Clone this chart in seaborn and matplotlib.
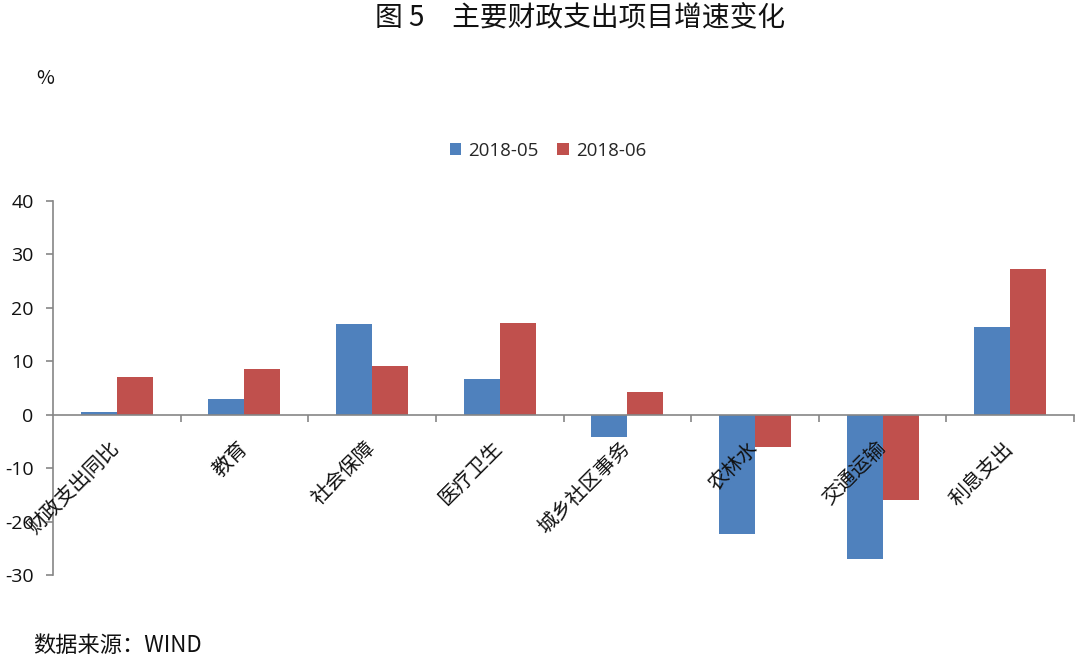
import matplotlib
matplotlib.use("Agg")
import matplotlib.pyplot as plt
from matplotlib.ticker import FixedLocator
from matplotlib.patches import Patch
import seaborn as sns
import pandas as pd
import numpy as np

categories = ["财政支出同比", "教育", "社会保障", "医疗卫生", "城乡社区事务", "农林水", "交通运输", "利息支出"]
series_names = ["2018-05", "2018-06"]
may_values = [0.5, 3.0, 17.0, 6.6, -4.2, -22.3, -27.0, 16.5]
jun_values = [7.0, 8.6, 9.1, 17.2, 4.3, -6.1, -15.9, 27.3]
y_ticks = [-30, -20, -10, 0, 10, 20, 30, 40]

colors = ["#4F81BD", "#C0504D"]
grey = "#868686"

sns.set_theme(style="white")
plt.rcParams['font.family'] = ['Noto Sans CJK SC', 'DejaVu Sans']

df = pd.DataFrame({
    "cat": categories * 2,
    "val": may_values + jun_values,
    "series": [series_names[0]] * len(categories) + [series_names[1]] * len(categories),
})

fig = plt.figure(figsize=(10.8, 6.58), dpi=100)
ax = fig.add_axes([53 / 1080, 1 - 575 / 658, (1074 - 53) / 1080, (575 - 201) / 658])

sns.barplot(data=df, x="cat", y="val", hue="series", palette=colors, width=0.565,
            saturation=1, gap=0, linewidth=0, ax=ax, legend=False)

ax.set_axisbelow(False)
ax.set_xlim(-0.5, len(categories) - 0.5)
ax.set_ylim(-30, 40)
ax.set_xlabel("")
ax.set_ylabel("")

for s in ["top", "right"]:
    ax.spines[s].set_visible(False)
ax.spines["left"].set_color(grey)
ax.spines["left"].set_linewidth(1.2)
ax.spines["bottom"].set_position(("data", 0))
ax.spines["bottom"].set_color(grey)
ax.spines["bottom"].set_linewidth(1.2)

ax.yaxis.set_major_locator(FixedLocator(y_ticks))
ax.set_yticklabels([str(v) for v in y_ticks], family=["Open Sans", "DejaVu Sans"], fontsize=14, color="#111111")
ax.tick_params(axis="y", which="major", left=True, direction="out", length=5, width=1.2, color=grey, pad=9)

ax.set_xticks(range(len(categories)))
ax.set_xticklabels(categories, rotation=45, ha="right", va="center", rotation_mode="anchor",
                   fontsize=14.5, color="#111111")
ax.tick_params(axis="x", which="major", bottom=True, length=0, pad=22)
ax.xaxis.set_minor_locator(FixedLocator(np.arange(0.5, len(categories), 1.0)))
ax.tick_params(axis="x", which="minor", bottom=True, direction="out", length=5, width=1.2, color=grey)

handles = [Patch(facecolor=c, edgecolor="none") for c in colors]
fig.legend(handles, series_names, loc="center", bbox_to_anchor=(548 / 1080, 1 - 151 / 658), ncol=2,
           frameon=False, handlelength=0.6, handleheight=0.6, handletextpad=0.4, columnspacing=1.0,
           prop={"family": ["Open Sans", "DejaVu Sans"], "size": 13.5})

fig.text(580 / 1080, 1 - 18 / 658, "图 5　主要财政支出项目增速变化", ha="center", va="center",
         fontsize=20, fontweight="normal", color="#111111")
fig.text(45 / 1080, 1 - 78 / 658, "%", ha="center", va="center", fontsize=14, color="#111111")
fig.text(33 / 1080, 1 - 645 / 658, "数据来源：WIND", ha="left", va="center", fontsize=16, color="#111111")

fig.savefig("out.png", dpi=100)
